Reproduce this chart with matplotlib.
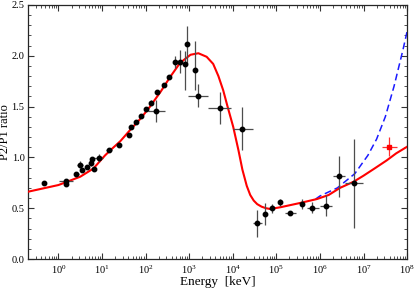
import matplotlib
matplotlib.use("Agg")
import matplotlib.pyplot as plt
from matplotlib.ticker import MultipleLocator, LogLocator, NullFormatter, FixedLocator
import numpy as np

plt.rcParams["font.family"] = ["Liberation Serif", "DejaVu Serif"]
plt.rcParams["mathtext.fontset"] = "stix"

# ===== Data =====
# model curve (log10 E, ratio)
model_logE = [-0.70, -0.19, 0.00, 0.50, 0.80, 1.07, 1.19, 1.42, 1.645, 1.90,
              2.10, 2.35, 2.56, 2.79, 3.03, 3.21, 3.40, 3.55, 3.67, 3.78,
              3.88, 4.01, 4.13, 4.22, 4.32, 4.40, 4.48, 4.56, 4.66, 4.76,
              4.86, 5.10, 5.53, 5.93, 6.20, 6.46, 6.77, 7.00, 7.25, 7.53,
              7.75, 8.00]
model_ratio = [0.662, 0.71, 0.728, 0.81, 0.89, 1.02, 1.07, 1.16, 1.27, 1.39,
               1.50, 1.65, 1.79, 1.93, 2.01, 2.025, 1.99, 1.92, 1.80, 1.66,
               1.50, 1.30, 1.07, 0.88, 0.72, 0.63, 0.575, 0.54, 0.515, 0.50,
               0.492, 0.51, 0.55, 0.59, 0.63, 0.70, 0.76, 0.82, 0.89, 0.97,
               1.04, 1.105]

# alternative high-energy curve (dashed)
alt_logE = [5.90, 6.00, 6.40, 6.80, 7.10, 7.30, 7.50, 7.70, 7.90, 8.00]
alt_ratio = [0.59, 0.62, 0.70, 0.84, 1.02, 1.18, 1.40, 1.70, 2.05, 2.24]

# measured points: energy, ratio, x-range, y-range
energy = [0.47, 1.45, 1.5, 2.55, 3.1, 3.45, 4.6, 5.6, 5.9, 6.7, 8.3, 14.5, 24,
          42, 47, 60, 78, 103, 131, 171, 186, 266, 352, 475, 620, 804, 881,
          1365, 1620, 5130, 16000, 36600, 55000, 78500, 121700, 206000,
          380000, 670000, 1.38e6, 2.7e6, 6.2e6]
ratio = [0.75, 0.77, 0.74, 0.84, 0.93, 0.88, 0.91, 0.94, 0.98, 0.89, 0.99, 1.07,
         1.12, 1.22, 1.30, 1.35, 1.41, 1.48, 1.54, 1.46, 1.64, 1.71, 1.79, 1.94,
         1.94, 1.92, 2.12, 1.86, 1.60, 1.49, 1.28, 0.357, 0.443, 0.50, 0.558,
         0.45, 0.54, 0.505, 0.525, 0.817, 0.75]
e_lo = [0.44, 1.05, 1.45, 2.25, 2.6, 3.3, 4.2, 5.2, 5.5, 6.3, 6.5, 12.5, 21,
        37, 44, 55, 72, 96, 122, 114, 175, 250, 330, 450, 590, 770, 850,
        1300, 944, 2700, 10200, 29500, 52000, 74000, 116000, 158000,
        360000, 500000, 1.0e6, 2.03e6, 3.77e6]
e_hi = [0.50, 2.2, 1.55, 2.9, 3.7, 3.6, 5.0, 6.0, 6.3, 7.1, 10.5, 17, 27,
        47, 50, 66, 85, 110, 140, 280, 198, 285, 375, 500, 650, 840, 910,
        1430, 2700, 9100, 29200, 46200, 58000, 83000, 128000, 284000,
        400000, 955000, 1.86e6, 3.77e6, 9.6e6]
r_lo = [0.73, 0.76, 0.72, 0.82, 0.90, 0.86, 0.89, 0.92, 0.96, 0.87, 0.95, 1.05,
        1.10, 1.20, 1.28, 1.33, 1.39, 1.46, 1.52, 1.35, 1.62, 1.69, 1.77, 1.88,
        1.83, 1.66, 1.92, 1.66, 1.50, 1.33, 1.07, 0.22, 0.33, 0.45, 0.52,
        0.43, 0.49, 0.45, 0.42, 0.607, 0.31]
r_hi = [0.77, 0.78, 0.76, 0.86, 0.96, 0.90, 0.93, 0.96, 1.00, 0.91, 1.03, 1.09,
        1.14, 1.24, 1.32, 1.37, 1.43, 1.50, 1.56, 1.565, 1.66, 1.73, 1.81, 2.00,
        2.06, 2.05, 2.29, 2.15, 1.72, 1.647, 1.50, 0.48, 0.55, 0.54, 0.59,
        0.47, 0.59, 0.56, 0.63, 1.017, 1.18]

# single high-energy point (red square)
sq_energy = [3.9e7]
sq_ratio = [1.105]
sq_e_lo = [2.7e7]
sq_e_hi = [6.0e7]
sq_r_lo = [1.01]
sq_r_hi = [1.20]

x_major_ticks = [1e0, 1e1, 1e2, 1e3, 1e4, 1e5, 1e6, 1e7, 1e8]


def asym(vals, lo, hi):
    v = np.asarray(vals, dtype=float)
    return [v - np.asarray(lo, dtype=float), np.asarray(hi, dtype=float) - v]


fig = plt.figure(figsize=(4.15, 2.89), dpi=100)
ax = fig.add_axes([0.0675, 0.1038, 0.9135, 0.879])

ax.plot(10 ** np.asarray(alt_logE), alt_ratio, color="#1a1aff", lw=1.1,
        ls=(0, (4.5, 2.5)), zorder=2)
ax.plot(10 ** np.asarray(model_logE), model_ratio, color="#ff0000", lw=1.5,
        zorder=3, solid_joinstyle="round")

ax.errorbar(energy, ratio, xerr=asym(energy, e_lo, e_hi), yerr=asym(ratio, r_lo, r_hi),
            fmt="o", ms=3.2, color="black", ecolor="0.3", elinewidth=0.9,
            capsize=0, zorder=4)
ax.errorbar(sq_energy, sq_ratio, xerr=asym(sq_energy, sq_e_lo, sq_e_hi),
            yerr=asym(sq_ratio, sq_r_lo, sq_r_hi), fmt="s", ms=3.5,
            color="#ff0000", ecolor="#ff3030", elinewidth=0.9, capsize=0, zorder=4)

ax.set_xscale("log")
ax.set_xlim(0.2, 1e8)
ax.set_ylim(0, 2.5)

ax.xaxis.set_major_locator(FixedLocator(x_major_ticks))
ax.xaxis.set_minor_locator(LogLocator(base=10, subs=np.arange(2, 10), numticks=100))
ax.xaxis.set_minor_formatter(NullFormatter())
ax.yaxis.set_major_locator(MultipleLocator(0.5))
ax.yaxis.set_minor_locator(MultipleLocator(0.1))
ax.yaxis.set_major_formatter(plt.FormatStrFormatter("%.1f"))

ax.tick_params(which="both", direction="in", top=True, right=True, labelsize=7.5,
               color="0.2", pad=3)
ax.tick_params(axis="y", pad=2.5)
ax.tick_params(which="major", length=4.5, width=0.8)
ax.tick_params(which="minor", length=2.5, width=0.6)
for s in ax.spines.values():
    s.set_linewidth(0.9)
    s.set_color("0.15")

ax.set_xlabel("Energy  [keV]", fontsize=9.5, labelpad=0)
ax.set_ylabel("P2/P1 ratio", fontsize=9)
ax.yaxis.set_label_coords(-0.046, 0.5)

fig.savefig("out.png", dpi=100)
